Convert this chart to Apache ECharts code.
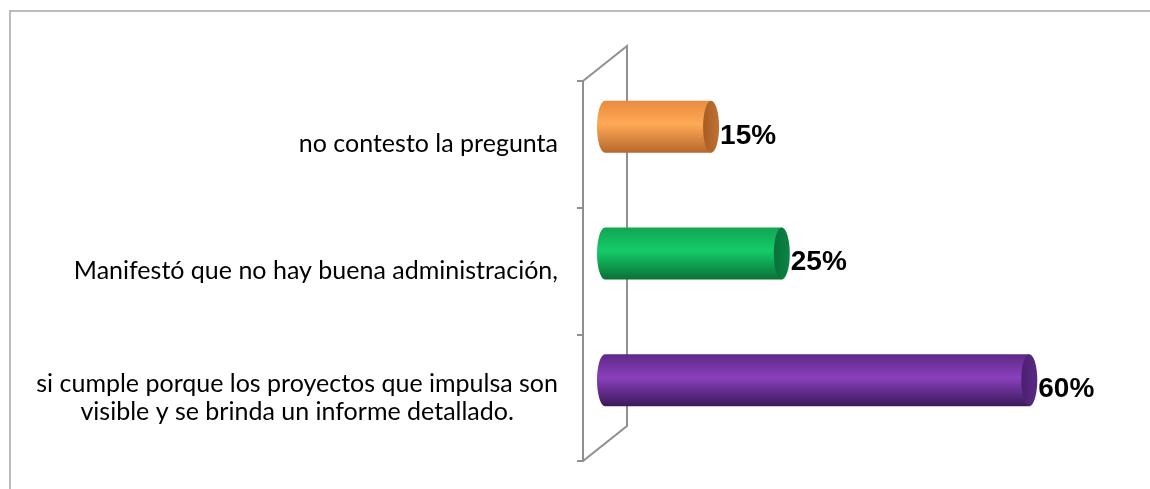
<!DOCTYPE html>
<html>
<head>
<meta charset="utf-8">
<script src="https://cdn.jsdelivr.net/npm/echarts@6/dist/echarts.min.js"></script>
<style>
  html, body { margin: 0; padding: 0; background: #fff; }
  #chart { width: 1150px; height: 489px; }
</style>
</head>
<body>
<div id="chart"></div>
<script>
// data, bottom to top
const categories = [
  'si cumple porque los proyectos que impulsa son\nvisible y se brinda un informe detallado.',
  'Manifestó que no hay buena administración,',
  'no contesto la pregunta'
];
const values = [60, 25, 15];
const valueLabels = ['60%', '25%', '15%'];

// cylinder shading per bar
const palette = [
  { edge: '#5e2888', mid: '#8a40bd', dark: '#3b1a5a', cap: ['#4a2070', '#5a2a84'] },
  { edge: '#12a553', mid: '#14cc68', dark: '#0a7035', cap: ['#08703a', '#0b8544'] },
  { edge: '#e98c3e', mid: '#ffa955', dark: '#b5682c', cap: ['#a65e25', '#c07232'] }
];

const DEPTH_X = 44, DEPTH_Y = 35; // 3d wall depth
const GRID = { left: 583, top: 81, bottom: 28, right: 72 };

const chart = echarts.init(document.getElementById('chart'));

const renderItem = (params, api) => {
  const i = params.dataIndex;
  const start = api.coord([0, api.value(0)]);
  const end = api.coord([api.value(1), api.value(0)]);
  const band = api.size([0, 1])[1];
  const ry = band * 0.205;
  const rx = 8;
  const x0 = start[0] + DEPTH_X / 2;
  const x1 = end[0] + DEPTH_X / 2;
  const cy = start[1] - DEPTH_Y / 2;
  const top = cy - ry, bot = cy + ry;
  const c = palette[i];
  const body = 'M' + x0 + ' ' + top + ' L' + x1 + ' ' + top + ' L' + x1 + ' ' + bot +
    ' L' + x0 + ' ' + bot + ' A' + rx + ' ' + ry + ' 0 0 1 ' + x0 + ' ' + top + ' Z';
  const cap = 'M' + x1 + ' ' + top + ' A' + rx + ' ' + ry + ' 0 1 1 ' + x1 + ' ' + bot +
    ' A' + rx + ' ' + ry + ' 0 1 1 ' + x1 + ' ' + top + ' Z';
  return {
    type: 'group',
    children: [
      {
        type: 'path',
        shape: { pathData: body },
        style: {
          fill: new echarts.graphic.LinearGradient(0, 0, 0, 1, [
            { offset: 0, color: c.edge },
            { offset: 0.45, color: c.mid },
            { offset: 1, color: c.dark }
          ])
        }
      },
      {
        type: 'path',
        shape: { pathData: cap },
        style: {
          fill: new echarts.graphic.LinearGradient(0, 0, 1, 0, [
            { offset: 0, color: c.cap[0] },
            { offset: 1, color: c.cap[1] }
          ])
        }
      },
      {
        type: 'text',
        style: {
          text: valueLabels[i],
          x: x1 + rx + 1,
          y: cy + 9,
          align: 'left',
          verticalAlign: 'middle',
          fill: '#000',
          font: 'bold 28px "Liberation Sans", Arial, sans-serif'
        }
      }
    ]
  };
};

const wallColor = '#8f8f8f';
const gTop = GRID.top, gBot = 489 - GRID.bottom, gL = GRID.left;

const option = {
  animation: false,
  backgroundColor: '#fff',
  grid: GRID,
  xAxis: { type: 'value', min: 0, max: 70, show: false },
  yAxis: {
    type: 'category',
    data: categories,
    axisLine: { show: true, lineStyle: { color: wallColor, width: 2 } },
    axisTick: { show: true, alignWithLabel: false, inside: false, length: 6, lineStyle: { color: wallColor, width: 2 } },
    axisLabel: {
      margin: 25,
      color: '#000',
      align: 'right',
      formatter: (v) => v.split('\n').map((s) => '{c|' + s + '}').join('\n'),
      rich: {
        c: { align: 'center', fontFamily: 'Lato', fontSize: 25, lineHeight: 28, color: '#000' }
      }
    }
  },
  graphic: [
    // outer frame
    { type: 'rect', shape: { x: 10, y: 11, width: 1300, height: 700 }, style: { fill: 'none', stroke: '#a6a6a6', lineWidth: 1.5 }, z: -1 },
    // 3d wall
    { type: 'polyline', shape: { points: [[gL, gTop], [gL + DEPTH_X, gTop - DEPTH_Y], [gL + DEPTH_X, gBot - DEPTH_Y], [gL, gBot]] }, style: { fill: 'none', stroke: wallColor, lineWidth: 2 }, z: 0 }
  ],
  series: [
    {
      type: 'custom',
      renderItem: renderItem,
      encode: { x: 1, y: 0 },
      data: values.map((v, i) => [i, v]),
      z: 5
    }
  ]
};

chart.setOption(option);
</script>
</body>
</html>
